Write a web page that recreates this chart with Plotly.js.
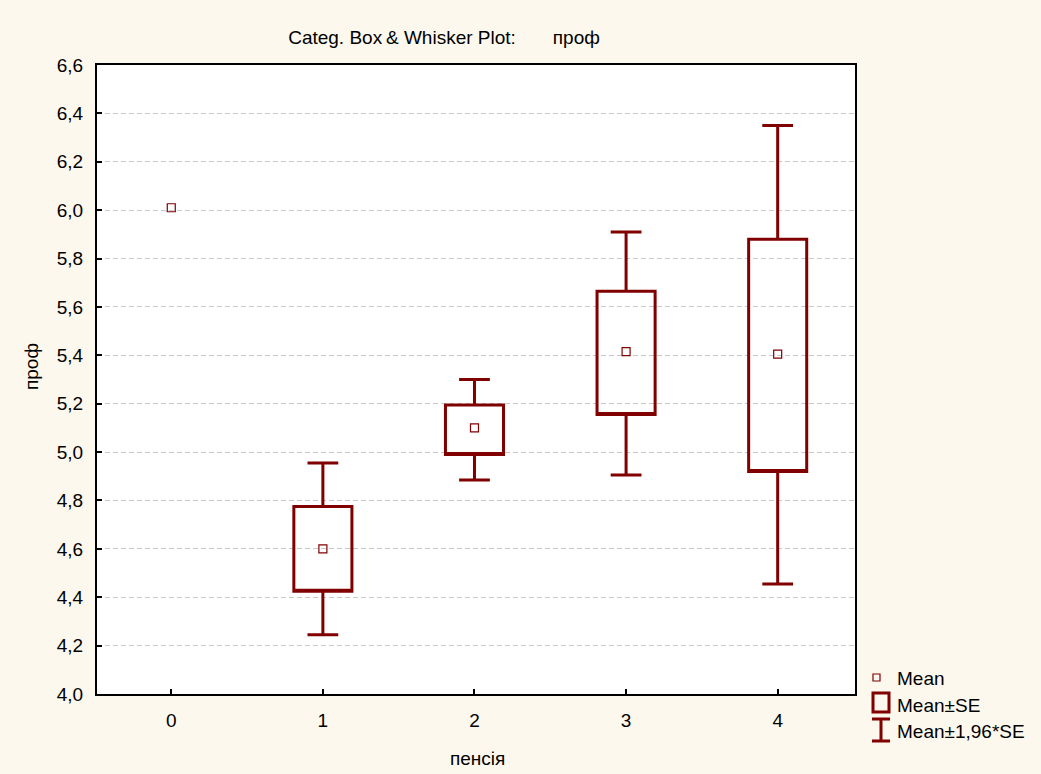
<!DOCTYPE html>
<html>
<head>
<meta charset="utf-8">
<script src="https://cdn.plot.ly/plotly-3.0.1.min.js"></script>
<style>html,body{margin:0;padding:0;background:#FDF8EE;}</style>
</head>
<body>
<div id="chart" style="width:1041px;height:774px;"></div>
<script>
// Data
const categories = [0, 1, 2, 3, 4];
const means      = [6.01, 4.60, 5.10, 5.415, 5.405];
const seLow      = [null, 4.425, 4.99, 5.155, 4.92];
const seHigh     = [null, 4.775, 5.195, 5.665, 5.88];
const ciLow      = [null, 4.245, 4.885, 4.905, 4.455];
const ciHigh     = [null, 4.955, 5.30, 5.91, 6.35];
const yTicks     = [4.0, 4.2, 4.4, 4.6, 4.8, 5.0, 5.2, 5.4, 5.6, 5.8, 6.0, 6.2, 6.4, 6.6];
const legendLabels = ['Mean', 'Mean±SE', 'Mean±1,96*SE'];

const RED = '#800000';
const FONT = 'Liberation Sans, Arial, sans-serif';
const FS = 19;

const idx = categories.map((c, i) => i).filter(i => seLow[i] !== null);

const boxTrace = {
  type: 'box',
  x: idx.map(i => categories[i]),
  q1: idx.map(i => seLow[i]),
  median: idx.map(i => seLow[i]),
  q3: idx.map(i => seHigh[i]),
  lowerfence: idx.map(i => ciLow[i]),
  upperfence: idx.map(i => ciHigh[i]),
  width: 0.383,
  whiskerwidth: 0.53,
  line: {color: RED, width: 3},
  fillcolor: 'rgba(255,255,255,0)',
  boxpoints: false,
  showlegend: false,
  hoverinfo: 'skip'
};

const meanTrace = {
  type: 'scatter',
  mode: 'markers',
  x: categories,
  y: means,
  marker: {symbol: 'square-open', size: 8, color: RED, line: {width: 1.2, color: RED}},
  showlegend: false,
  hoverinfo: 'skip'
};

// Custom legend (paper coordinates, pixel offsets)
const W = 1041, H = 774, L = 97, R = 186, T = 65, B = 80;
const pw = W - L - R, ph = H - T - B;
function px(xp) { return (xp - L) / pw; }
function py(yp) { return (H - B - yp) / ph; }

const shapes = [
  // Mean±SE icon
  {type: 'rect', xref: 'paper', yref: 'paper', x0: px(873), x1: px(889), y0: py(712), y1: py(693), line: {color: RED, width: 3}},
  // Mean±1.96SE icon
  {type: 'line', xref: 'paper', yref: 'paper', x0: px(881), x1: px(881), y0: py(741), y1: py(719), line: {color: RED, width: 3}},
  {type: 'line', xref: 'paper', yref: 'paper', x0: px(872), x1: px(890), y0: py(719), y1: py(719), line: {color: RED, width: 3}},
  {type: 'line', xref: 'paper', yref: 'paper', x0: px(872), x1: px(890), y0: py(741), y1: py(741), line: {color: RED, width: 3}},
  // Mean icon
  {type: 'rect', xref: 'paper', yref: 'paper', x0: px(873), x1: px(880), y0: py(681), y1: py(674), line: {color: RED, width: 1.2}}
];

const legendY = [678, 705, 731];
const annotations = legendLabels.map((t, i) => ({
  text: t, xref: 'paper', yref: 'paper', x: px(895), y: py(legendY[i]),
  xanchor: 'left', yanchor: 'middle', showarrow: false,
  font: {family: FONT, size: FS, color: '#000'}
}));
annotations.push({
  text: 'проф', xref: 'paper', yref: 'paper', x: px(31), y: py(367), textangle: -90,
  xanchor: 'center', yanchor: 'middle', showarrow: false,
  font: {family: FONT, size: FS, color: '#000'}
});
annotations.push({
  text: 'пенсія', xref: 'paper', yref: 'paper', x: px(477), y: py(759),
  xanchor: 'center', yanchor: 'middle', showarrow: false,
  font: {family: FONT, size: FS, color: '#000'}
});

const layout = {
  width: W, height: H,
  margin: {l: L, r: R, t: T, b: B},
  paper_bgcolor: '#FDF8EE',
  plot_bgcolor: '#FFFFFF',
  separators: ',.',
  showlegend: false,
  title: {
    text: 'Categ. Box\u2009& Whisker Plot:\u00A0\u00A0\u00A0\u00A0\u00A0\u00A0\u00A0проф',
    x: 444 / W, xanchor: 'center', xref: 'container',
    y: 1 - 37 / H, yanchor: 'middle', yref: 'container',
    font: {family: FONT, size: FS, color: '#000'}
  },
  font: {family: FONT, size: FS, color: '#000'},
  xaxis: {
    range: [-0.49, 4.51],
    tickmode: 'array', tickvals: categories, ticktext: categories.map(String),
    showgrid: false, zeroline: false,
    showline: true, mirror: true, linecolor: '#000', linewidth: 2,
    ticks: 'inside', ticklen: 5, tickwidth: 2, tickcolor: '#000',
    ticklabelstandoff: 8,
    tickfont: {family: FONT, size: FS, color: '#000'}
  },
  yaxis: {
    range: [4.0, 6.6],
    tickmode: 'array', tickvals: yTicks, ticktext: yTicks.map(v => v.toFixed(1).replace('.', ',')),
    showgrid: true, gridcolor: '#C8C8C8', gridwidth: 1, griddash: '5px,3px',
    zeroline: false,
    showline: true, mirror: true, linecolor: '#000', linewidth: 2,
    ticks: 'inside', ticklen: 5, tickwidth: 2, tickcolor: '#000',
    ticklabelstandoff: 8,
    tickfont: {family: FONT, size: FS, color: '#000'}
  },
  shapes: shapes,
  annotations: annotations
};

Plotly.newPlot('chart', [boxTrace, meanTrace], layout, {displayModeBar: false, staticPlot: true});
</script>
</body>
</html>
